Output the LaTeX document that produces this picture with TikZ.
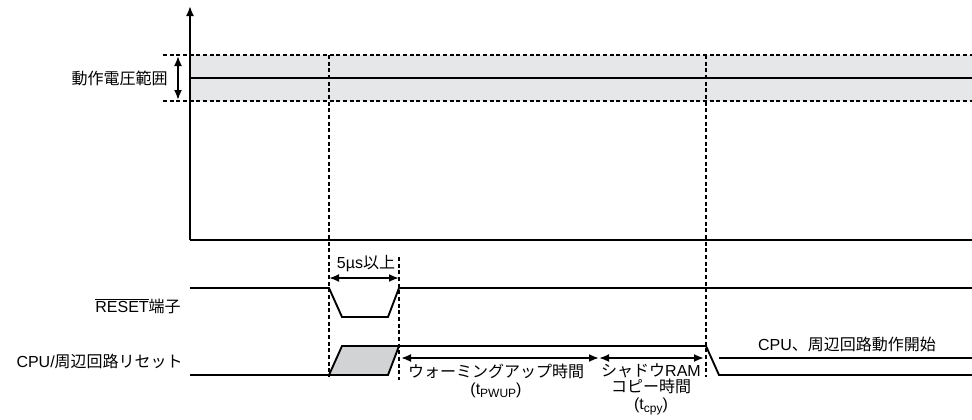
\documentclass[tikz,border=0pt]{standalone}
\usepackage{fontspec}
\setmainfont{Liberation Sans}
\newfontfamily\jpfont{Noto Sans CJK JP}
\usetikzlibrary{arrows.meta}
\newcommand{\ja}[1]{{\jpfont #1}}
\newcommand{\lowidx}[1]{\raisebox{-0.35ex}{\fontsize{9pt}{9pt}\selectfont #1}}
\definecolor{bandgray}{HTML}{E6E7E8}
\definecolor{pulsegray}{HTML}{D1D3D4}

\begin{document}
\begin{tikzpicture}[>={Latex[length=7.5pt,width=6pt]}, x=0.75pt, y=-0.75pt,
    font=\fontsize{12pt}{12.5pt}\selectfont, every node/.style={inner sep=0pt},
    wave/.style={line width=1.4pt}, guide/.style={line width=1.3pt, dash pattern=on 3pt off 2pt}]
    \useasboundingbox (0,0) rectangle (972,419);

    % operating voltage band
    \fill[bandgray] (190,55) rectangle (972,101);
    \draw[guide] (163,55) -- (972,55);
    \draw[guide] (163,101) -- (972,101);
    \draw[wave] (190,78) -- (972,78);
    \coordinate (band_top) at (178,56);
    \coordinate (band_bot) at (178,100);
    \draw[<->, wave] (band_top) -- (band_bot);
    \node[anchor=east] (range_label) at (168,78) {\ja{動作電圧範囲}};

    % axes
    \coordinate (origin) at (190,240);
    \coordinate (v_top) at (190,6);
    \coordinate (t_end) at (972,240);
    \draw[->, wave] (origin) -- (v_top);
    \draw[wave] (origin) -- (t_end);

    % timing guides
    \draw[guide] (329,55) -- (329,377);
    \draw[guide] (706,55) -- (706,377);
    \draw[guide] (399,257) -- (399,380);

    % RESET pin
    \node[anchor=east] (reset_label) at (181,306) {$\overline{\mbox{RESET}}$\ja{端子}};
    \draw[wave] (190,288) -- (329,288) -- (342,317) -- (388,317) -- (399,288) -- (972,288);
    \coordinate (pulse_l) at (329,278);
    \coordinate (pulse_r) at (399,278);
    \draw[<->, wave] (pulse_l) -- (pulse_r);
    \node (pulse_label) at (366,264) {5µs\ja{以上}};

    % CPU / peripheral reset
    \node[anchor=east] (cpu_label) at (183,361) {CPU/\ja{周辺回路リセット}};
    \filldraw[wave, fill=pulsegray] (329,375) -- (342,346) -- (399,346) -- (388,375) -- cycle;
    \draw[wave] (190,375) -- (329,375);
    \draw[wave] (399,346) -- (706,346) -- (719,375) -- (972,375);

    % warm-up and shadow RAM copy
    \coordinate (warm_l) at (401,358);
    \coordinate (warm_r) at (599,358);
    \coordinate (copy_r) at (704,358);
    \draw[<->, wave] (warm_l) -- (warm_r);
    \draw[<->, wave] (warm_r) -- (copy_r);
    \node[align=center] (warm_label) at (496,381) {\ja{ウォーミングアップ時間}\\(t\lowidx{PWUP})};
    \node[align=center] (copy_label) at (651,389) {\ja{シャドウ}RAM\\\ja{コピー時間}\\(t\lowidx{cpy})};

    % operation start
    \coordinate (run_l) at (719,358);
    \coordinate (run_r) at (972,358);
    \draw[wave] (run_l) -- (run_r);
    \node (run_label) at (847,344) {CPU\ja{、周辺回路動作開始}};
\end{tikzpicture}
\end{document}
